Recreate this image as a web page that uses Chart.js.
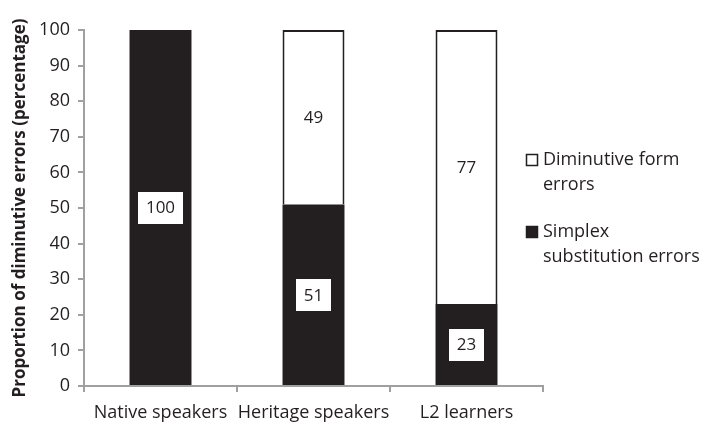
<!DOCTYPE html>
<html>
<head>
<meta charset="utf-8">
<script src="https://cdn.jsdelivr.net/npm/chart.js@4/dist/chart.umd.min.js"></script>
<style>
  html, body { margin: 0; padding: 0; background: #fff; }
  #wrap { width: 706px; height: 428px; }
</style>
</head>
<body>
<div id="wrap"><canvas id="chart"></canvas></div>
<script>
const categories = ['Native speakers', 'Heritage speakers', 'L2 learners'];
const simplexValues = [100, 51, 23];
const diminutiveValues = [null, 49, 77];
const legendLabels = [
    ['Diminutive form', 'errors'],
    ['Simplex', 'substitution errors']
];

const INK = '#231f20';
const AXIS = '#a0a0a0';
const FONT = '"Open Sans", "Noto Sans", sans-serif';

// value labels inside bar segments, boxed ones get white background
const valueLabels = {
    id: 'valueLabels',
    afterDatasetsDraw(chart) {
        const ctx = chart.ctx;
        ctx.save();
        ctx.font = '17px ' + FONT;
        ctx.textAlign = 'center';
        ctx.textBaseline = 'middle';
        chart.data.datasets.forEach((ds, i) => {
            const meta = chart.getDatasetMeta(i);
            meta.data.forEach((bar, j) => {
                const v = ds.data[j];
                if (!v) return;
                const p = bar.getProps(['x', 'y', 'base'], true);
                const cy = (p.y + p.base) / 2;
                const txt = String(v);
                const w = ctx.measureText(txt).width;
                if (ds.boxed) {
                    ctx.fillStyle = '#fff';
                    ctx.fillRect(Math.round(p.x - w / 2 - 8), Math.round(cy - 16), Math.round(w + 16), 32);
                }
                ctx.fillStyle = INK;
                ctx.fillText(txt, p.x, cy + 1);
            });
        });
        ctx.restore();
    }
};

// legend drawn to the right, two lines per item
const sideLegend = {
    id: 'sideLegend',
    afterDraw(chart) {
        const ctx = chart.ctx;
        ctx.save();
        ctx.font = '18px ' + FONT;
        ctx.textBaseline = 'middle';
        ctx.textAlign = 'left';
        const items = [
            {fill: '#fff', y: 160, lines: legendLabels[0]},
            {fill: INK, y: 232, lines: legendLabels[1]}
        ];
        items.forEach(it => {
            ctx.fillStyle = it.fill;
            ctx.fillRect(526, it.y - 6, 12, 12);
            ctx.strokeStyle = INK;
            ctx.lineWidth = 1.5;
            ctx.strokeRect(526.5, it.y - 5.5, 11, 11);
            ctx.fillStyle = INK;
            it.lines.forEach((l, k) => {
                ctx.fillText(l, 543, it.y + k * 25);
            });
        });
        ctx.restore();
    }
};

new Chart(document.getElementById('chart'), {
    type: 'bar',
    data: {
        labels: categories,
        datasets: [
            {
                label: 'Simplex substitution errors',
                data: simplexValues,
                backgroundColor: INK,
                borderWidth: 0,
                boxed: true
            },
            {
                label: 'Diminutive form errors',
                data: diminutiveValues,
                backgroundColor: '#fff',
                borderColor: INK,
                borderWidth: {top: 2, left: 2, right: 2, bottom: 0},
                borderSkipped: 'bottom'
            }
        ]
    },
    options: {
        responsive: true,
        maintainAspectRatio: false,
        animation: false,
        layout: {padding: {top: 30, right: 163, left: 0, bottom: 0}},
        categoryPercentage: 1,
        barPercentage: 0.405,
        plugins: {
            legend: {display: false},
            tooltip: {enabled: false}
        },
        scales: {
            x: {
                stacked: true,
                grid: {
                    offset: true,
                    drawOnChartArea: false,
                    tickLength: 6,
                    color: AXIS,
                    lineWidth: 2
                },
                border: {color: AXIS, width: 2},
                ticks: {
                    color: INK,
                    font: {size: 18, family: FONT},
                    padding: 10,
                    maxRotation: 0,
                    autoSkip: false
                },
                afterFit(scale) { scale.height = 42; }
            },
            y: {
                stacked: true,
                min: 0,
                max: 100,
                grid: {
                    drawOnChartArea: false,
                    tickLength: 6,
                    color: AXIS,
                    lineWidth: 2
                },
                border: {color: AXIS, width: 2},
                ticks: {
                    stepSize: 10,
                    color: INK,
                    font: {size: 18, family: FONT},
                    padding: 8
                },
                title: {
                    display: true,
                    text: 'Proportion of diminutive errors (percentage)',
                    color: INK,
                    font: {size: 17, weight: 'bold', family: FONT},
                    padding: {top: 10, bottom: 2}
                },
                afterFit(scale) { scale.width = 84; }
            }
        }
    },
    plugins: [valueLabels, sideLegend]
});
</script>
</body>
</html>
